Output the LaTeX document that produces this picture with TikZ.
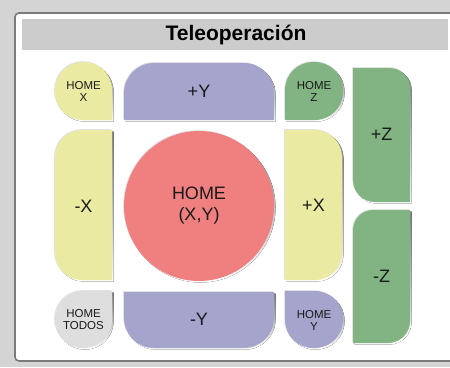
\documentclass[tikz,border=0pt]{standalone}
\usepackage{fontspec}
\setmainfont{Liberation Sans}
\definecolor{bgout}{HTML}{D4D4D4}
\definecolor{panelborder}{HTML}{7A7A7A}
\definecolor{titlebar}{HTML}{CCCCCC}
\definecolor{cyellow}{HTML}{EAEAA2}
\definecolor{cpurple}{HTML}{A4A4CC}
\definecolor{cgreen}{HTML}{82B382}
\definecolor{cred}{HTML}{F08080}
\definecolor{cgray}{HTML}{DEDEDE}
\definecolor{shade}{HTML}{8A8A8A}
\definecolor{hilite}{HTML}{E2E2E2}
\definecolor{txt}{HTML}{1A1A1A}
\newcommand\btnpath[8]{({#1+#5},#2) -- ({#1+#3-#6},#2) arc(-90:0:#6) -- ({#1+#3},{#2+#4-#7}) arc(0:90:#7) -- ({#1+#8},{#2+#4}) arc(90:180:#8) -- (#1,{#2+#5}) arc(180:270:#5) -- cycle}
\newcommand\mybtn[9]{%
  \fill[hilite,shift={(-0.8,-0.8)}] \btnpath{#1}{#2}{#3}{#4}{#5}{#6}{#7}{#8};
  \fill[shade,shift={(1.5,1.5)}] \btnpath{#1}{#2}{#3}{#4}{#5}{#6}{#7}{#8};
  \fill[#9] \btnpath{#1}{#2}{#3}{#4}{#5}{#6}{#7}{#8};}
\tikzset{
  biglabel/.style={font=\fontsize{18}{21}\selectfont, text=txt, align=center, inner sep=0pt},
  smalllabel/.style={font=\fontsize{11.5}{12}\selectfont, text=txt, align=center, inner sep=0pt},
}
\begin{document}
\begin{tikzpicture}[x=1pt,y=-1pt]
\useasboundingbox (0,0) rectangle (450,367);
\fill[bgout] (0,0) rectangle (450,367);
\filldraw[fill=white, draw=panelborder, line width=1.6pt, rounded corners=4pt] (15,13) rectangle (470,361);
\fill[titlebar] (22,19) rectangle (448,50);
\node[font=\fontsize{21}{23}\selectfont\bfseries, text=black, inner sep=0pt] (title) at (236,34.5) {Teleoperación};
% buttons
\mybtn{55}{62}{57}{58}{28}{28}{0.01}{28}{cyellow}
\node[smalllabel] (homex) at (83.5,91) {HOME\\X};
\mybtn{124}{63}{150}{57}{30}{30}{0.01}{0.01}{cpurple}
\node[biglabel] (py) at (199,91) {+Y};
\mybtn{285}{62}{58}{58}{28}{28}{28}{0.01}{cgreen}
\node[smalllabel] (homez) at (314,91) {HOME\\Z};
\mybtn{353}{68}{57}{134}{0.01}{20}{0.01}{22}{cgreen}
\node[biglabel] (pz) at (381.5,134) {+Z};
\mybtn{353}{210}{57}{133}{20}{0.01}{22}{0.01}{cgreen}
\node[biglabel] (mz) at (381.5,276) {-Z};
\mybtn{55}{130}{57}{150}{27}{0.01}{0.01}{27}{cyellow}
\node[biglabel] (mx) at (83.5,206) {-X};
\mybtn{285}{130}{57}{150}{0.01}{27}{27}{0.01}{cyellow}
\node[biglabel] (px) at (313.5,205) {+X};
\fill[hilite] (198.2,205.2) circle (75);
\fill[shade] (200.5,207.5) circle (75);
\fill[cred] (199,206) circle (75);
\node[biglabel] (homexy) at (199,206) {HOME\\(X,Y)};
\mybtn{55}{291}{57}{57}{28}{0.01}{28}{28}{cgray}
\node[smalllabel] (hometodos) at (83.5,320) {HOME\\TODOS};
\mybtn{124}{292}{150}{56}{0.01}{0.01}{30}{30}{cpurple}
\node[biglabel] (my) at (199,319) {-Y};
\mybtn{285}{291}{58}{57}{0.01}{28}{28}{28}{cpurple}
\node[smalllabel] (homey) at (314,320) {HOME\\Y};
\end{tikzpicture}
\end{document}
